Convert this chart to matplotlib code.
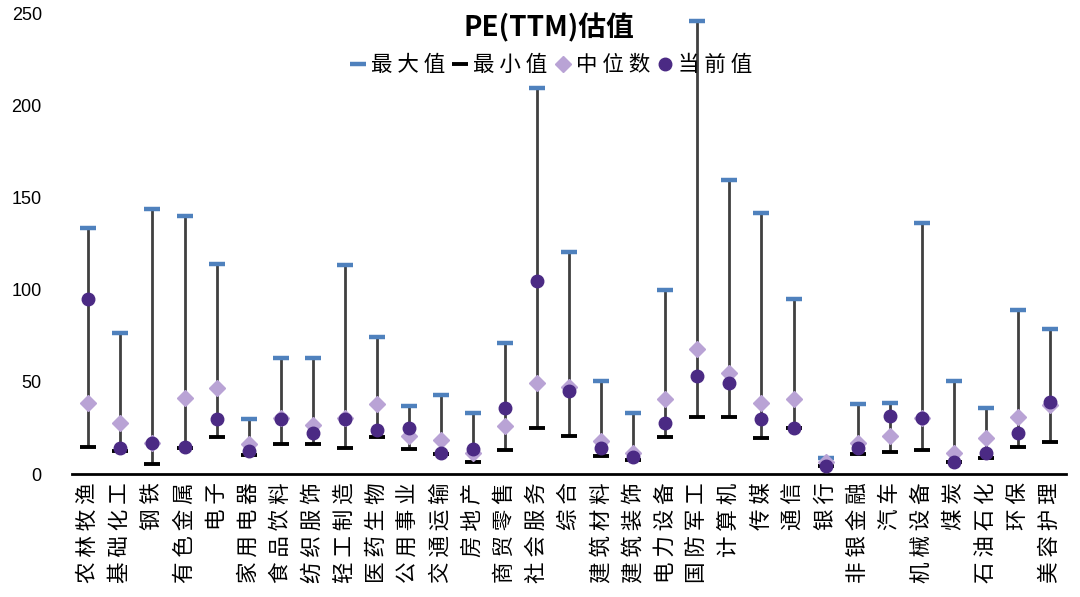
import matplotlib
matplotlib.use("Agg")
import matplotlib.pyplot as plt
from matplotlib.lines import Line2D

plt.rcParams['font.family'] = ['Noto Sans CJK SC', 'DejaVu Sans']

categories = ["农林牧渔", "基础化工", "钢铁", "有色金属", "电子", "家用电器", "食品饮料", "纺织服饰",
              "轻工制造", "医药生物", "公用事业", "交通运输", "房地产", "商贸零售", "社会服务", "综合",
              "建筑材料", "建筑装饰", "电力设备", "国防军工", "计算机", "传媒", "通信", "银行",
              "非银金融", "汽车", "机械设备", "煤炭", "石油石化", "环保", "美容护理"]
max_vals = [133.3, 76.3, 143.8, 140.2, 113.8, 29.8, 62.8, 62.8, 113.2, 74.2,
            37.1, 43.0, 33.3, 71.1, 209.6, 120.3, 50.5, 33.3, 99.8, 246.0,
            159.5, 141.6, 95.0, 8.5, 37.8, 38.7, 136.0, 50.5, 36.0, 89.2, 78.8]
min_vals = [14.5, 12.5, 5.4, 13.9, 20.1, 10.3, 16.3, 16.3, 13.9, 20.1,
            13.6, 10.7, 6.5, 13.0, 24.8, 20.4, 9.6, 7.4, 19.9, 30.8,
            30.8, 19.4, 24.8, 4.3, 10.7, 11.8, 12.8, 6.5, 8.5, 14.6, 17.2]
median_vals = [38.7, 27.5, 17.0, 41.0, 46.5, 16.3, 30.6, 26.6, 30.6, 37.8,
               20.6, 18.4, 11.6, 26.2, 49.2, 47.0, 17.9, 11.2, 40.7, 67.7,
               54.6, 38.4, 40.5, 6.7, 16.6, 20.6, 30.3, 11.2, 19.4, 31.1, 37.4]
current_vals = [95.0, 14.3, 17.0, 14.5, 29.7, 12.7, 29.7, 22.1, 29.7, 23.7,
                25.1, 11.2, 13.4, 35.8, 104.7, 45.2, 13.9, 9.4, 27.5, 53.2,
                49.2, 29.8, 24.8, 4.3, 14.3, 31.6, 30.6, 6.5, 11.2, 22.1, 39.1]
yticks = [0, 50, 100, 150, 200, 250]

c_max = "#4F81BD"
c_min = "#000000"
c_med = "#B9A3D5"
c_cur = "#4B2A84"
c_line = "#404040"

fig = plt.figure(figsize=(10.8, 5.97), dpi=100)
ax = fig.add_axes([0.067, 0.206, 0.920, 0.772])

x = list(range(len(categories)))
ax.vlines(x, min_vals, max_vals, colors=c_line, linewidth=2.0, zorder=1)
ax.plot(x, max_vals, linestyle='none', marker='_', markersize=12, mew=3.2, color=c_max, zorder=3)
ax.plot(x, min_vals, linestyle='none', marker='_', markersize=11, mew=2.8, color=c_min, zorder=3)
ax.plot(x, median_vals, linestyle='none', marker='D', markersize=8, color=c_med, zorder=4)
ax.plot(x, current_vals, linestyle='none', marker='o', markersize=9, color=c_cur, zorder=5)

ax.set_xlim(-0.5, len(categories) - 0.5)
ax.set_ylim(0, 250)
ax.set_yticks(yticks)
ax.set_yticklabels([str(v) for v in yticks], fontsize=13, family=['Liberation Sans', 'DejaVu Sans'])
ax.set_xticks(x)
spaced = [" ".join(list(c)) for c in categories]
ax.set_xticklabels(spaced, rotation=90, fontsize=15.5, va='top', ha='center')
ax.tick_params(axis='both', length=0)
ax.tick_params(axis='y', pad=22)
ax.tick_params(axis='x', pad=6)
for s in ['top', 'right', 'left']:
    ax.spines[s].set_visible(False)
ax.spines['bottom'].set_linewidth(2)
ax.spines['bottom'].set_color('#000000')

fig.text(0.508, 0.953, "PE(TTM)估值", ha='center', va='center', fontsize=20, fontweight='bold')

handles = [
    Line2D([], [], linestyle='none', marker='_', markersize=12, mew=3.2, color=c_max),
    Line2D([], [], linestyle='none', marker='_', markersize=11, mew=2.8, color=c_min),
    Line2D([], [], linestyle='none', marker='D', markersize=8, color=c_med),
    Line2D([], [], linestyle='none', marker='o', markersize=9, color=c_cur),
]
labels = ["最 大 值", "最 小 值", "中 位 数", "当 前 值"]
fig.legend(handles, labels, loc='center', bbox_to_anchor=(0.510, 0.891), ncol=4, frameon=False,
           fontsize=15.5, handlelength=0.8, handletextpad=0.2, columnspacing=0.3)

fig.savefig("out.png", dpi=100)
